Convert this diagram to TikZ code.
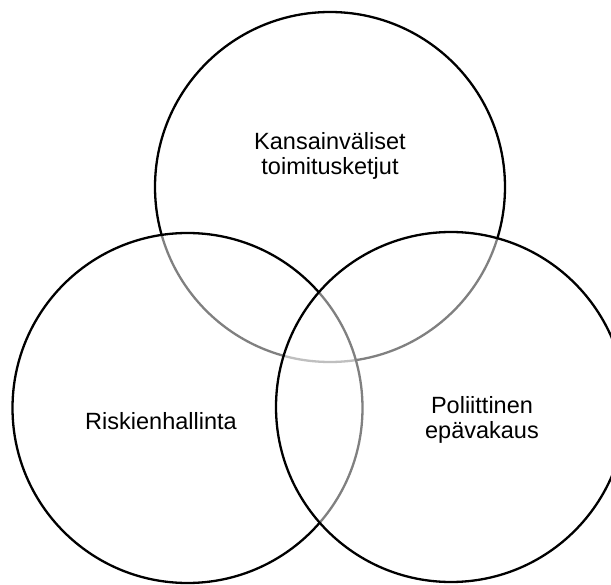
\documentclass[tikz,border=0pt]{standalone}
\usepackage{fontspec}
\setmainfont{Liberation Sans}
\usetikzlibrary{
    calc
}
\tikzset{
    venn/.style={line width=2.3pt, draw=black, fill=white, fill opacity=0.5},
    vennlabel/.style={align=center, font=\fontsize{23.5}{25.5}\selectfont, text opacity=1}
}

\begin{document}
\begin{tikzpicture}[x=1pt, y=-1pt]
  \useasboundingbox (0,0) rectangle (611,585);

  \coordinate (KT) at (330,187);
  \coordinate (RH) at (187.5,408);
  \coordinate (PE) at (451,407);

  \draw[venn] (KT) circle (175);
  \draw[venn] (RH) circle (175);
  \draw[venn] (PE) circle (175);

  \node[vennlabel] (kansainvaliset) at (330,156) {Kansainväliset\\toimitusketjut};
  \node[vennlabel] (riskit) at (161,421) {Riskienhallinta};
  \node[vennlabel] (politiikka) at (482,420) {Poliittinen\\epävakaus};
\end{tikzpicture}
\end{document}
